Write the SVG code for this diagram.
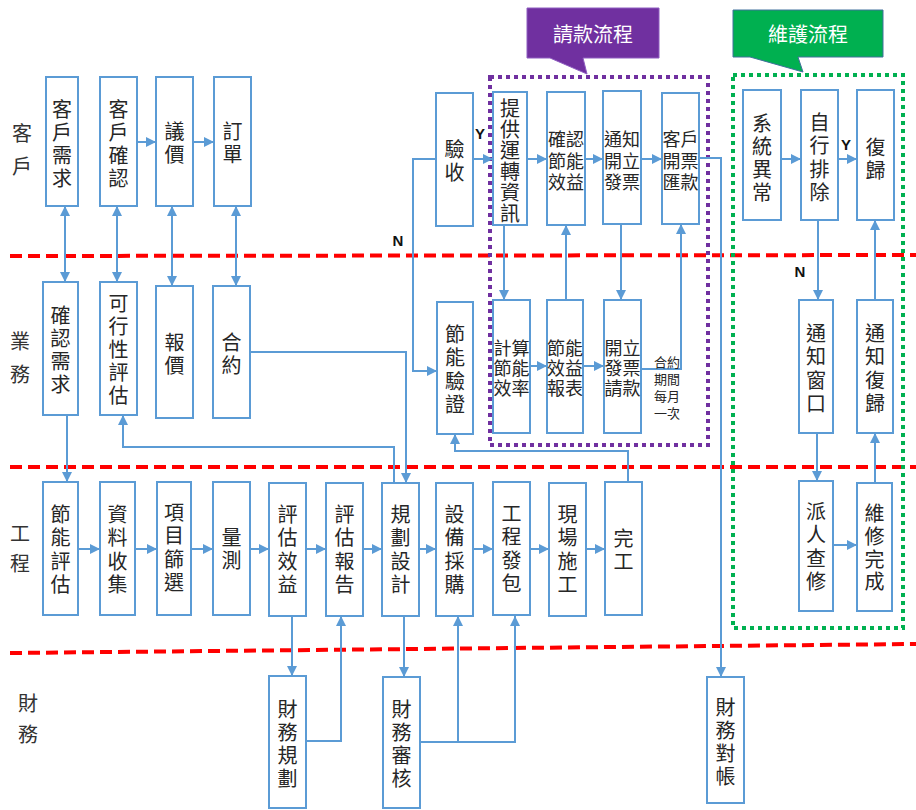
<svg xmlns="http://www.w3.org/2000/svg" width="916" height="810" viewBox="0 0 916 810">
<style>
.bx{fill:#fff;stroke:#5B9BD5;stroke-width:2}
.t{font-family:"Noto Sans CJK TC","Noto Sans",sans-serif;font-size:20px;fill:#262626;text-anchor:middle;dominant-baseline:central}
.t2{font-family:"Noto Sans CJK TC","Noto Sans",sans-serif;font-size:18px;fill:#262626;text-anchor:middle;dominant-baseline:central}
.ts{font-family:"Noto Sans CJK TC","Noto Sans",sans-serif;font-size:13px;fill:#262626;text-anchor:middle;dominant-baseline:central}
.lane{font-family:"Noto Sans CJK TC","Noto Sans",sans-serif;font-size:20px;fill:#333;text-anchor:middle;dominant-baseline:central}
.yn{font-family:"Liberation Sans",Arial,sans-serif;font-size:15px;font-weight:bold;fill:#111;text-anchor:middle;dominant-baseline:central}
.ct{font-family:"Noto Sans CJK TC","Noto Sans",sans-serif;font-size:20px;fill:#fff;text-anchor:middle;dominant-baseline:central}
.red{stroke:#FF0000;stroke-width:4;stroke-dasharray:12 6;fill:none}
.c{fill:none;stroke:#5B9BD5;stroke-width:2}
.a{marker-end:url(#ah)}
.aa{marker-end:url(#ah);marker-start:url(#ah)}
</style>
<defs>
<marker id="ah" viewBox="0 0 10 10" refX="10" refY="5" markerWidth="10" markerHeight="10" markerUnits="userSpaceOnUse" orient="auto-start-reverse">
<path d="M0,0 L10,5 L0,10 z" fill="#5B9BD5"/>
</marker>
</defs>
<rect x="0" y="0" width="916" height="810" fill="#fff"/>

<!-- lane separators -->
<g id="lanes">
<line class="red" x1="10" y1="256" x2="916" y2="255"/>
<line class="red" x1="10" y1="467" x2="916" y2="467"/>
<line class="red" x1="10" y1="653" x2="916" y2="644"/>
<text class="lane" x="22" y="132">客</text><text class="lane" x="22" y="165">戶</text>
<text class="lane" x="20" y="340">業</text><text class="lane" x="20" y="373">務</text>
<text class="lane" x="20" y="532">工</text><text class="lane" x="20" y="562">程</text>
<text class="lane" x="28" y="702">財</text><text class="lane" x="28" y="733">務</text>
</g>

<!-- group frames and callouts -->
<g id="billing-group">
<rect x="490" y="77" width="218" height="368" fill="none" stroke="#7030A0" stroke-width="4" stroke-dasharray="4 4"/>
<path d="M527,8 H659 V58 H583 L587,74 L550,58 H527 Z" fill="#7030A0" stroke="#8E5CC0" stroke-width="1"/>
<text class="ct" x="593" y="33">請款流程</text>
</g>
<g id="maint-group">
<rect x="733" y="75" width="170" height="553" fill="none" stroke="#00B050" stroke-width="4" stroke-dasharray="4 4"/>
<path d="M733,10 H883 V57 H798 L803,72 L750,57 H733 Z" fill="#00B050" stroke="#41719C" stroke-width="1"/>
<text class="ct" x="808" y="33">維護流程</text>
</g>

<!-- connectors -->
<g id="connectors">
<path class="c aa" d="M65,206 V282"/>
<path class="c aa" d="M117,206 V282"/>
<path class="c aa" d="M172,206 V286"/>
<path class="c aa" d="M236,206 V286"/>
<path class="c a" d="M137,142 H156"/>
<path class="c a" d="M193,142 H214"/>
<path class="c a" d="M67,415 V482"/>
<path class="c a" d="M394,483 V447 H123 V415"/>
<path class="c a" d="M250,352 H406 V483"/>
<path class="c a" d="M78,549 H100"/>
<path class="c a" d="M135,549 H157"/>
<path class="c a" d="M191,549 H213"/>
<path class="c a" d="M250,549 H269"/>
<path class="c a" d="M306,549 H326"/>
<path class="c a" d="M363,549 H382"/>
<path class="c a" d="M419,549 H436"/>
<path class="c a" d="M473,549 H493"/>
<path class="c a" d="M530,549 H549"/>
<path class="c a" d="M586,549 H605"/>
<path class="c a" d="M292,616 V676"/>
<path class="c a" d="M306,741 H341 V616"/>
<path class="c a" d="M404,616 V677"/>
<path class="c a" d="M420,742 H515 V616"/>
<path class="c a" d="M458,742 V616"/>
<path class="c a" d="M628,482 V451 H455 V434"/>
<path class="c a" d="M436,159 H413 V371 H437"/>
<path class="c a" d="M473,159 H493"/>
<path class="c a" d="M527,159 H547"/>
<path class="c a" d="M585,159 H603"/>
<path class="c a" d="M641,159 H662"/>
<path class="c a" d="M699,158 H721 V677"/>
<path class="c a" d="M504,225 V300"/>
<path class="c a" d="M566,300 V225"/>
<path class="c a" d="M621,224 V300"/>
<path class="c a" d="M641,369 H681 V224"/>
<path class="c a" d="M530,366 H547"/>
<path class="c a" d="M583,366 H604"/>
<path class="c a" d="M781,159 H801"/>
<path class="c a" d="M838,159 H857"/>
<path class="c a" d="M818,220 V300"/>
<path class="c a" d="M817,433 V481"/>
<path class="c a" d="M833,545 H857"/>
<path class="c a" d="M875,483 V433"/>
<path class="c a" d="M875,300 V220"/>
<text class="yn" x="480" y="133">Y</text>
<text class="yn" x="398" y="240">N</text>
<text class="yn" x="846" y="144">Y</text>
<text class="yn" x="800" y="271">N</text>
</g>

<!-- customer lane -->
<g id="n-khxq"><rect class="bx" x="46" y="77" width="32" height="129"/><text class="t" x="62"><tspan x="62" y="108">客</tspan><tspan x="62" y="131">戶</tspan><tspan x="62" y="154">需</tspan><tspan x="62" y="177">求</tspan></text></g>
<g id="n-khqr"><rect class="bx" x="100" y="77" width="37" height="129"/><text class="t"><tspan x="118.5" y="108">客</tspan><tspan x="118.5" y="131">戶</tspan><tspan x="118.5" y="154">確</tspan><tspan x="118.5" y="177">認</tspan></text></g>
<g id="n-yj"><rect class="bx" x="156" y="77" width="37" height="129"/><text class="t"><tspan x="174.5" y="130">議</tspan><tspan x="174.5" y="153">價</tspan></text></g>
<g id="n-dd"><rect class="bx" x="214" y="77" width="37" height="129"/><text class="t"><tspan x="232.5" y="130">訂</tspan><tspan x="232.5" y="153">單</tspan></text></g>

<!-- business lane -->
<g id="n-qrxq"><rect class="bx" x="43" y="282" width="35" height="133"/><text class="t"><tspan x="60.5" y="314">確</tspan><tspan x="60.5" y="337">認</tspan><tspan x="60.5" y="360">需</tspan><tspan x="60.5" y="383">求</tspan></text></g>
<g id="n-kxx"><rect class="bx" x="100" y="282" width="37" height="133"/><text class="t"><tspan x="118.5" y="302">可</tspan><tspan x="118.5" y="325">行</tspan><tspan x="118.5" y="348">性</tspan><tspan x="118.5" y="371">評</tspan><tspan x="118.5" y="394">估</tspan></text></g>
<g id="n-bj"><rect class="bx" x="156" y="286" width="37" height="132"/><text class="t"><tspan x="174.5" y="341">報</tspan><tspan x="174.5" y="364">價</tspan></text></g>
<g id="n-hy"><rect class="bx" x="213" y="286" width="37" height="132"/><text class="t"><tspan x="231.5" y="341">合</tspan><tspan x="231.5" y="364">約</tspan></text></g>
<g id="n-jnyz"><rect class="bx" x="437" y="302" width="36" height="132"/><text class="t"><tspan x="455" y="333">節</tspan><tspan x="455" y="356">能</tspan><tspan x="455" y="380">驗</tspan><tspan x="455" y="403">證</tspan></text></g>

<!-- engineering lane -->
<g id="n-jnpg"><rect class="bx" x="43" y="482" width="35" height="133"/><text class="t"><tspan x="60.5" y="513">節</tspan><tspan x="60.5" y="536">能</tspan><tspan x="60.5" y="560">評</tspan><tspan x="60.5" y="583">估</tspan></text></g>
<g id="n-zlsj"><rect class="bx" x="100" y="482" width="35" height="133"/><text class="t"><tspan x="117.5" y="513">資</tspan><tspan x="117.5" y="536">料</tspan><tspan x="117.5" y="560">收</tspan><tspan x="117.5" y="583">集</tspan></text></g>
<g id="n-xmsx"><rect class="bx" x="157" y="482" width="34" height="133"/><text class="t"><tspan x="174" y="511">項</tspan><tspan x="174" y="534">目</tspan><tspan x="174" y="558">篩</tspan><tspan x="174" y="581">選</tspan></text></g>
<g id="n-lc"><rect class="bx" x="213" y="482" width="37" height="133"/><text class="t"><tspan x="231.5" y="536">量</tspan><tspan x="231.5" y="559">測</tspan></text></g>
<g id="n-pgxy"><rect class="bx" x="269" y="483" width="37" height="133"/><text class="t"><tspan x="287.5" y="513">評</tspan><tspan x="287.5" y="536">估</tspan><tspan x="287.5" y="560">效</tspan><tspan x="287.5" y="583">益</tspan></text></g>
<g id="n-pgbg"><rect class="bx" x="326" y="483" width="37" height="133"/><text class="t"><tspan x="344.5" y="513">評</tspan><tspan x="344.5" y="536">估</tspan><tspan x="344.5" y="560">報</tspan><tspan x="344.5" y="583">告</tspan></text></g>
<g id="n-ghsj"><rect class="bx" x="382" y="483" width="37" height="133"/><text class="t"><tspan x="400.5" y="513">規</tspan><tspan x="400.5" y="536">劃</tspan><tspan x="400.5" y="560">設</tspan><tspan x="400.5" y="583">計</tspan></text></g>
<g id="n-sbcg"><rect class="bx" x="436" y="483" width="37" height="133"/><text class="t"><tspan x="454.5" y="513">設</tspan><tspan x="454.5" y="536">備</tspan><tspan x="454.5" y="560">採</tspan><tspan x="454.5" y="583">購</tspan></text></g>
<g id="n-gcfb"><rect class="bx" x="493" y="482" width="37" height="133"/><text class="t"><tspan x="511.5" y="512">工</tspan><tspan x="511.5" y="535">程</tspan><tspan x="511.5" y="559">發</tspan><tspan x="511.5" y="582">包</tspan></text></g>
<g id="n-xcsg"><rect class="bx" x="549" y="483" width="37" height="133"/><text class="t"><tspan x="567.5" y="513">現</tspan><tspan x="567.5" y="536">場</tspan><tspan x="567.5" y="560">施</tspan><tspan x="567.5" y="583">工</tspan></text></g>
<g id="n-wg"><rect class="bx" x="605" y="482" width="37" height="133"/><text class="t"><tspan x="623.5" y="537">完</tspan><tspan x="623.5" y="560">工</tspan></text></g>

<!-- finance lane -->
<g id="n-cwgh"><rect class="bx" x="269" y="676" width="37" height="132"/><text class="t"><tspan x="287.5" y="708">財</tspan><tspan x="287.5" y="731">務</tspan><tspan x="287.5" y="754">規</tspan><tspan x="287.5" y="777">劃</tspan></text></g>
<g id="n-cwsh"><rect class="bx" x="383" y="677" width="37" height="131"/><text class="t"><tspan x="401.5" y="708">財</tspan><tspan x="401.5" y="731">務</tspan><tspan x="401.5" y="754">審</tspan><tspan x="401.5" y="777">核</tspan></text></g>
<g id="n-cwdz"><rect class="bx" x="707" y="677" width="37" height="126"/><text class="t"><tspan x="725.5" y="706">財</tspan><tspan x="725.5" y="729">務</tspan><tspan x="725.5" y="752">對</tspan><tspan x="725.5" y="775">帳</tspan></text></g>

<!-- billing flow -->
<g id="n-ys"><rect class="bx" x="436" y="93" width="37" height="133"/><text class="t"><tspan x="454.5" y="148">驗</tspan><tspan x="454.5" y="171">收</tspan></text></g>
<g id="n-tgyz"><rect class="bx" x="493" y="92" width="34" height="133"/><text class="t"><tspan x="510" y="107">提</tspan><tspan x="510" y="128">供</tspan><tspan x="510" y="149">運</tspan><tspan x="510" y="170">轉</tspan><tspan x="510" y="191">資</tspan><tspan x="510" y="212">訊</tspan></text></g>
<g id="n-qrjnxy"><rect class="bx" x="547" y="92" width="38" height="133"/><text class="t2"><tspan x="566" y="138">確認</tspan><tspan x="566" y="160">節能</tspan><tspan x="566" y="181">效益</tspan></text></g>
<g id="n-tzklfp"><rect class="bx" x="603" y="91" width="38" height="133"/><text class="t2"><tspan x="622" y="138">通知</tspan><tspan x="622" y="160">開立</tspan><tspan x="622" y="181">發票</tspan></text></g>
<g id="n-khkphk"><rect class="bx" x="662" y="93" width="37" height="131"/><text class="t2"><tspan x="680.5" y="138">客戶</tspan><tspan x="680.5" y="160">開票</tspan><tspan x="680.5" y="181">匯款</tspan></text></g>
<g id="n-jsjnxl"><rect class="bx" x="493" y="300" width="37" height="133"/><text class="t2"><tspan x="511.5" y="347">計算</tspan><tspan x="511.5" y="367">節能</tspan><tspan x="511.5" y="387">效率</tspan></text></g>
<g id="n-jnxybb"><rect class="bx" x="547" y="300" width="36" height="133"/><text class="t2"><tspan x="565" y="347">節能</tspan><tspan x="565" y="367">效益</tspan><tspan x="565" y="387">報表</tspan></text></g>
<g id="n-klfpqk"><rect class="bx" x="604" y="300" width="37" height="133"/><text class="t2"><tspan x="622.5" y="347">開立</tspan><tspan x="622.5" y="367">發票</tspan><tspan x="622.5" y="387">請款</tspan></text></g>
<g id="note-monthly"><text class="ts"><tspan x="667" y="361">合約</tspan><tspan x="667" y="378">期間</tspan><tspan x="667" y="395">每月</tspan><tspan x="667" y="412">一次</tspan></text></g>

<!-- maintenance flow -->
<g id="n-xtyc"><rect class="bx" x="743" y="90" width="38" height="130"/><text class="t"><tspan x="762" y="122">系</tspan><tspan x="762" y="145">統</tspan><tspan x="762" y="168">異</tspan><tspan x="762" y="191">常</tspan></text></g>
<g id="n-zxpc"><rect class="bx" x="801" y="90" width="37" height="130"/><text class="t"><tspan x="819.5" y="121">自</tspan><tspan x="819.5" y="144">行</tspan><tspan x="819.5" y="168">排</tspan><tspan x="819.5" y="191">除</tspan></text></g>
<g id="n-fg"><rect class="bx" x="857" y="90" width="37" height="130"/><text class="t"><tspan x="875.5" y="146">復</tspan><tspan x="875.5" y="169">歸</tspan></text></g>
<g id="n-tzck"><rect class="bx" x="799" y="300" width="34" height="133"/><text class="t"><tspan x="816" y="332">通</tspan><tspan x="816" y="355">知</tspan><tspan x="816" y="379">窗</tspan><tspan x="816" y="402">口</tspan></text></g>
<g id="n-tzfg"><rect class="bx" x="857" y="300" width="36" height="133"/><text class="t"><tspan x="875" y="332">通</tspan><tspan x="875" y="355">知</tspan><tspan x="875" y="379">復</tspan><tspan x="875" y="402">歸</tspan></text></g>
<g id="n-prcx"><rect class="bx" x="799" y="481" width="34" height="130"/><text class="t"><tspan x="816" y="510">派</tspan><tspan x="816" y="533">人</tspan><tspan x="816" y="557">查</tspan><tspan x="816" y="580">修</tspan></text></g>
<g id="n-wxwc"><rect class="bx" x="857" y="483" width="35" height="128"/><text class="t"><tspan x="874.5" y="512">維</tspan><tspan x="874.5" y="535">修</tspan><tspan x="874.5" y="558">完</tspan><tspan x="874.5" y="580">成</tspan></text></g>
</svg>
